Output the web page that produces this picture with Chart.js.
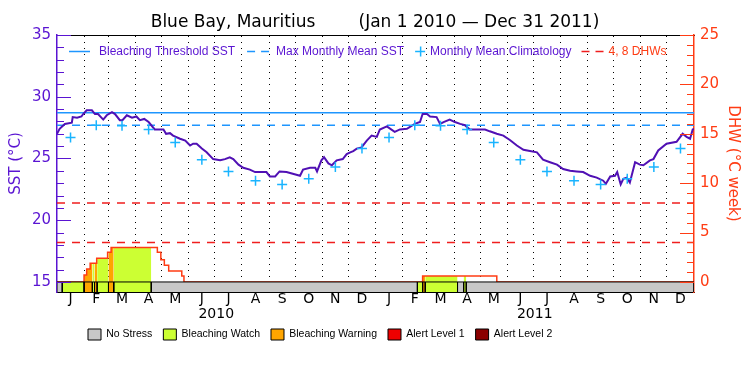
<!DOCTYPE html>
<html><head><meta charset="utf-8">
<script src="https://cdn.jsdelivr.net/npm/chart.js@4/dist/chart.umd.min.js"></script>
<style>html,body{margin:0;padding:0;background:#fff}</style>
</head><body>
<canvas id="c" width="750" height="375"></canvas>
<script>
// ---------------- data ----------------
const titleText = 'Blue Bay, Mauritius        (Jan 1 2010 \u2014 Dec 31 2011)';
const monthLetters = ['J','F','M','A','M','J','J','A','S','O','N','D','J','F','M','A','M','J','J','A','S','O','N','D'];
// day-of-period of each month boundary (Jan 1 2010 = 0)
const monthStartDays = [0,31,59,90,120,151,181,212,243,273,304,334,365,396,424,455,485,516,546,577,608,638,669,699,730];
const yearLabels = ['2010','2011'];
const yearMidDays = [182.5, 547.5];

// daily SST (deg C)
const sstDays = [0,3,9,17,18,23,28,30,34,40,43.5,47,53,57,63,66.5,72,75,80,86,91,95,100,105,112,122,125,129.5,133,141,147,152.5,156,160,166,171.5,179,187,192.5,198,202,208,213.5,221,227,240,244,250,255,263,278.5,282,290,296,298,303,306,311,315,320.5,327.5,332,336,339.5,343.5,349,355,360.5,366.5,370,378,387,393,401,410,416,419,424,427.5,435,439,443,450,456,462,467.5,473,485,490.5,496,504,511.5,519,527,534.5,542,550,557,565,573,580,588,595.5,603,611,618.5,626,629,634,639.5,642,646,649,653,656.5,662.5,668,672,679.5,683.5,689,698.5,710,717,721.5,725.5,728.5,730];
const sstVals = [27.0,27.4,27.8,27.9,28.35,28.3,28.4,28.6,28.9,28.9,28.6,28.6,28.15,28.5,28.75,28.6,28.1,28.1,28.5,28.3,28.4,28.1,28.2,27.95,27.35,27.35,27.0,27.05,26.85,26.6,26.45,26.05,26.2,26.2,25.8,25.5,24.95,24.85,24.95,25.1,24.95,24.5,24.25,24.1,23.9,23.9,23.55,23.55,23.95,23.9,23.6,24.1,24.25,24.25,23.95,24.85,25.1,24.6,24.45,24.85,24.95,25.35,25.5,25.6,25.8,25.9,26.45,26.85,26.75,27.35,27.6,27.15,27.35,27.4,27.8,27.95,28.6,28.6,28.4,28.35,27.8,27.95,28.15,27.95,27.8,27.7,27.35,27.35,27.35,27.2,27.0,26.85,26.5,26.05,25.7,25.6,25.5,24.9,24.7,24.5,24.15,24.0,23.95,23.9,23.6,23.45,23.2,22.95,23.55,23.6,23.9,22.9,23.35,23.45,23.05,24.7,24.5,24.45,24.85,24.95,25.65,26.2,26.35,27.0,26.75,26.6,27.35,27.4];

const bleachingThreshold = 28.7;   // deg C
const maxMonthlyMean = 27.7;       // deg C
const climatology = [26.7,27.7,27.65,27.35,26.3,24.9,23.95,23.2,22.9,23.35,24.3,25.8]; // Jan..Dec
const dhwLevels = [4, 8];

// Degree Heating Weeks step series (day it changes, new value)
const dhwDays = [0,31,34,38,45.5,58,62,115,119,123,128,143,145.5,419,504,730];
const dhwVals = [0,0.7,1.3,1.9,2.4,3.0,3.5,3.0,2.25,1.7,1.1,0.6,0,0.6,0,0];

// stress level periods: 0 no stress, 1 watch, 2 warning, 3 alert 1, 4 alert 2
const stressStart = [0,6,31,40.5,43,46,59,65,108,413,419,422,459,466,469];
const stressEnd   = [6,31,40.5,43,46,59,65,108,413,419,422,459,466,469,730];
const stressLevel = [0,1,2,1,2,1,2,1,0,1,2,1,0,1,0];
const stressNames = ['No Stress','Bleaching Watch','Bleaching Warning','Alert Level 1','Alert Level 2'];
const stressColors = ['#c8c8c8','#ccff33','#ffa500','#ee0000','#8b0000'];

// ---------------- style ----------------
const PURPLE = '#5a14d2';
const SSTLINE = '#5010b4';
const RED = '#ff3c14';
const CYAN = '#1e96ff';
const CROSS = '#19b4ff';
const DASHRED = '#f01e1e';
const FONT = 'DejaVu Sans';
const KEYFONT = 'Liberation Sans';
const dhwBarBottom = -1.016;   // stress bar band below DHW 0
const sstMin = 14.187;

Chart.defaults.font.family = FONT;

const monthMid = monthLetters.map((m,i)=> (monthStartDays[i]+monthStartDays[i+1])/2);
const gridDays = monthStartDays.slice(1,-1);

function dhwAt(d){ let v=0; for(let i=0;i<dhwDays.length;i++){ if(dhwDays[i]<=d) v=dhwVals[i]; } return v; }

const datasets = [];
// stress bar segments
stressStart.forEach((s,i)=>{
  const e = stressEnd[i];
  datasets.push({type:'line', xAxisID:'x', yAxisID:'yR', order:0,
    data:[{x:s,y:dhwBarBottom},{x:s,y:0},{x:e,y:0},{x:e,y:dhwBarBottom}],
    borderColor:'#000', borderWidth:1, pointRadius:0, fill:'start',
    backgroundColor:stressColors[stressLevel[i]], tension:0});
});
// climatology crosses
const climPts = monthMid.map((d,i)=>({x:d, y:climatology[i%12]}));
datasets.push({type:'line', xAxisID:'x', yAxisID:'y', order:1, data:climPts, showLine:false,
  pointStyle:'cross', pointRadius:5, pointBorderColor:CROSS, pointBorderWidth:1.5, borderColor:CROSS});
// SST
datasets.push({type:'line', xAxisID:'x', yAxisID:'y', order:2,
  data:sstDays.map((d,i)=>({x:d,y:sstVals[i]})), borderColor:SSTLINE, borderWidth:2, pointRadius:0, tension:0});
// threshold and MMM
datasets.push({type:'line', xAxisID:'x', yAxisID:'y', order:3, data:[{x:0,y:bleachingThreshold},{x:730,y:bleachingThreshold}],
  borderColor:CYAN, borderWidth:1.5, pointRadius:0});
datasets.push({type:'line', xAxisID:'x', yAxisID:'y', order:3, data:[{x:0,y:maxMonthlyMean},{x:730,y:maxMonthlyMean}],
  borderColor:CYAN, borderWidth:1.5, borderDash:[8,7], pointRadius:0});
// 4, 8 DHW lines
dhwLevels.forEach(v=>{
  datasets.push({type:'line', xAxisID:'x', yAxisID:'yR', order:4, data:[{x:0,y:v},{x:730,y:v}],
    borderColor:DASHRED, borderWidth:1.5, borderDash:[8,7], pointRadius:0});
});
// DHW line (value holds from its day until the next change)
datasets.push({type:'line', xAxisID:'x', yAxisID:'yR', order:5, stepped:'before',
  data:dhwDays.map((d,i)=>({x:d,y:dhwVals[i]})), borderColor:RED, borderWidth:1.5, pointRadius:0});
// DHW fills coloured by stress level
stressStart.forEach((s,i)=>{
  if (stressLevel[i]===0) return;
  const e = stressEnd[i];
  const pts=[{x:s,y:dhwAt(s)}];
  dhwDays.forEach((d,k)=>{ if(d>s && d<e) pts.push({x:d,y:dhwVals[k]}); });
  pts.push({x:e,y:dhwAt(e)});
  datasets.push({type:'line', xAxisID:'x', yAxisID:'yR', order:6, stepped:'before', data:pts,
    borderWidth:0, borderColor:'rgba(0,0,0,0)', pointRadius:0, fill:'origin', backgroundColor:stressColors[stressLevel[i]]});
});

// inward tick marks for both value axes
const tickPlugin = {
  id:'inwardTicks',
  afterDatasetsDraw(chart){
    const ctx = chart.ctx, ca = chart.chartArea;
    const y = chart.scales.y, yR = chart.scales.yR;
    ctx.save();
    ctx.lineWidth = 1;
    ctx.strokeStyle = PURPLE;
    for (let v=15; v<=35; v++){
      const p = Math.round(y.getPixelForValue(v))+0.5;
      const len = (v%5===0)?14:7;
      ctx.beginPath(); ctx.moveTo(ca.left, p); ctx.lineTo(ca.left+len, p); ctx.stroke();
    }
    ctx.strokeStyle = RED;
    for (let v=0; v<=25; v++){
      const p = Math.round(yR.getPixelForValue(v))+0.5;
      const len = (v%5===0)?14:7;
      ctx.beginPath(); ctx.moveTo(ca.right, p); ctx.lineTo(ca.right-len, p); ctx.stroke();
    }
    ctx.restore();
  }
};

// key drawn inside the top of the plot
const keyPlugin = {
  id:'topKey',
  afterDraw(chart){
    const ctx = chart.ctx;
    const yy = chart.chartArea.top + 16;
    ctx.save();
    ctx.font = '12px "'+KEYFONT+'"';
    ctx.textBaseline = 'middle';
    ctx.lineWidth = 1.5;
    const dashes = (x0)=>{ ctx.beginPath(); ctx.moveTo(x0, yy+0.5); ctx.lineTo(x0+8, yy+0.5); ctx.moveTo(x0+14, yy+0.5); ctx.lineTo(x0+22, yy+0.5); ctx.stroke(); };
    let x = chart.chartArea.left + 12;
    ctx.strokeStyle = CYAN; ctx.beginPath(); ctx.moveTo(x, yy+0.5); ctx.lineTo(x+21, yy+0.5); ctx.stroke();
    x += 30; ctx.fillStyle = PURPLE; ctx.fillText('Bleaching Threshold SST', x, yy+1);
    x += ctx.measureText('Bleaching Threshold SST').width + 12;
    ctx.strokeStyle = CYAN; dashes(x);
    x += 29; ctx.fillText('Max Monthly Mean SST', x, yy+1);
    x += ctx.measureText('Max Monthly Mean SST').width + 16;
    ctx.strokeStyle = CROSS; ctx.beginPath(); ctx.moveTo(x-5, yy+0.5); ctx.lineTo(x+5, yy+0.5); ctx.moveTo(x+0.5, yy-4.5); ctx.lineTo(x+0.5, yy+5.5); ctx.stroke();
    x += 10; ctx.fillText('Monthly Mean Climatology', x, yy+1);
    x += ctx.measureText('Monthly Mean Climatology').width + 10;
    ctx.strokeStyle = DASHRED; dashes(x);
    x += 27; ctx.fillStyle = RED; ctx.fillText('4, 8 DHWs', x, yy+1);
    ctx.restore();
  }
};

// place the bottom key where the reference has it
const legendShift = {
  id:'legendShift',
  afterLayout(chart){ if (chart.legend) { chart.legend.left = 77; } }
};

new Chart(document.getElementById('c'), {
  data:{ datasets },
  options:{
    responsive:false, animation:false, devicePixelRatio:1,
    layout:{ padding:{left:0,right:0,top:0,bottom:25} },
    plugins:{
      title:{ display:true, text:titleText, color:'#000', font:{size:17, weight:'normal', family:FONT, lineHeight:1.2}, padding:{top:12,bottom:2.6} },
      legend:{ position:'bottom', align:'start',
        labels:{ boxWidth:13, boxHeight:11, padding:11, color:'#000', font:{size:10.5, family:KEYFONT},
          generateLabels(){ return stressNames.map((n,i)=>({text:n, fillStyle:stressColors[i], strokeStyle:'#000', lineWidth:1, hidden:false, datasetIndex:i})); } },
        onClick(){} },
      tooltip:{ enabled:false },
      filler:{ propagate:false }
    },
    scales:{
      x:{ type:'linear', position:'bottom', min:0, max:730, weight:0,
        afterBuildTicks(s){ s.ticks = monthMid.map(v=>({value:v})); },
        afterFit(s){ s.height = 14; },
        ticks:{ autoSkip:false, maxRotation:0, padding:0, color:'#000', font:{size:14, lineHeight:1},
          callback:(v,i)=>monthLetters[i] },
        grid:{ display:true, drawOnChartArea:false, drawTicks:false },
        border:{ display:true, color:'#000', width:1 } },
      xYear:{ type:'linear', position:'bottom', min:0, max:730, weight:1,
        afterBuildTicks(s){ s.ticks = yearMidDays.map(v=>({value:v})); },
        afterFit(s){ s.height = 12; },
        ticks:{ autoSkip:false, maxRotation:0, padding:1, color:'#000', font:{size:14, lineHeight:1},
          callback:(v,i)=>yearLabels[i] },
        grid:{ display:false, drawTicks:false }, border:{ display:false } },
      xGrid:{ type:'linear', position:'top', min:0, max:730,
        afterBuildTicks(s){ s.ticks = gridDays.map(v=>({value:v})); },
        afterFit(s){ s.height = 0; },
        ticks:{ display:false },
        grid:{ display:true, drawTicks:false, color:'#000', lineWidth:1 },
        border:{ display:true, color:'#000', width:1, dash:[1,5] } },
      y:{ type:'linear', position:'left', min:sstMin, max:35,
        afterBuildTicks(s){ s.ticks = [15,20,25,30,35].map(v=>({value:v})); },
        afterFit(s){ s.width = 57; },
        ticks:{ padding:6, color:PURPLE, font:{size:15} },
        grid:{ display:true, drawOnChartArea:false, drawTicks:false },
        border:{ display:true, color:PURPLE, width:1.5 },
        title:{ display:true, text:'SST (\u00b0C)', color:PURPLE, font:{size:15, lineHeight:1.2}, padding:{top:7,bottom:0} } },
      yR:{ type:'linear', position:'right', min:dhwBarBottom, max:25,
        afterBuildTicks(s){ s.ticks = [0,5,10,15,20,25].map(v=>({value:v})); },
        afterFit(s){ s.width = 56; },
        ticks:{ padding:6, color:RED, font:{size:15} },
        grid:{ display:true, drawOnChartArea:false, drawTicks:false },
        border:{ display:true, color:RED, width:1.5 },
        title:{ display:true, text:'DHW (\u00b0C week)', color:RED, font:{size:15, lineHeight:1.2}, padding:{top:8,bottom:0} } }
    }
  },
  plugins:[tickPlugin, keyPlugin, legendShift]
});
</script>
</body></html>
